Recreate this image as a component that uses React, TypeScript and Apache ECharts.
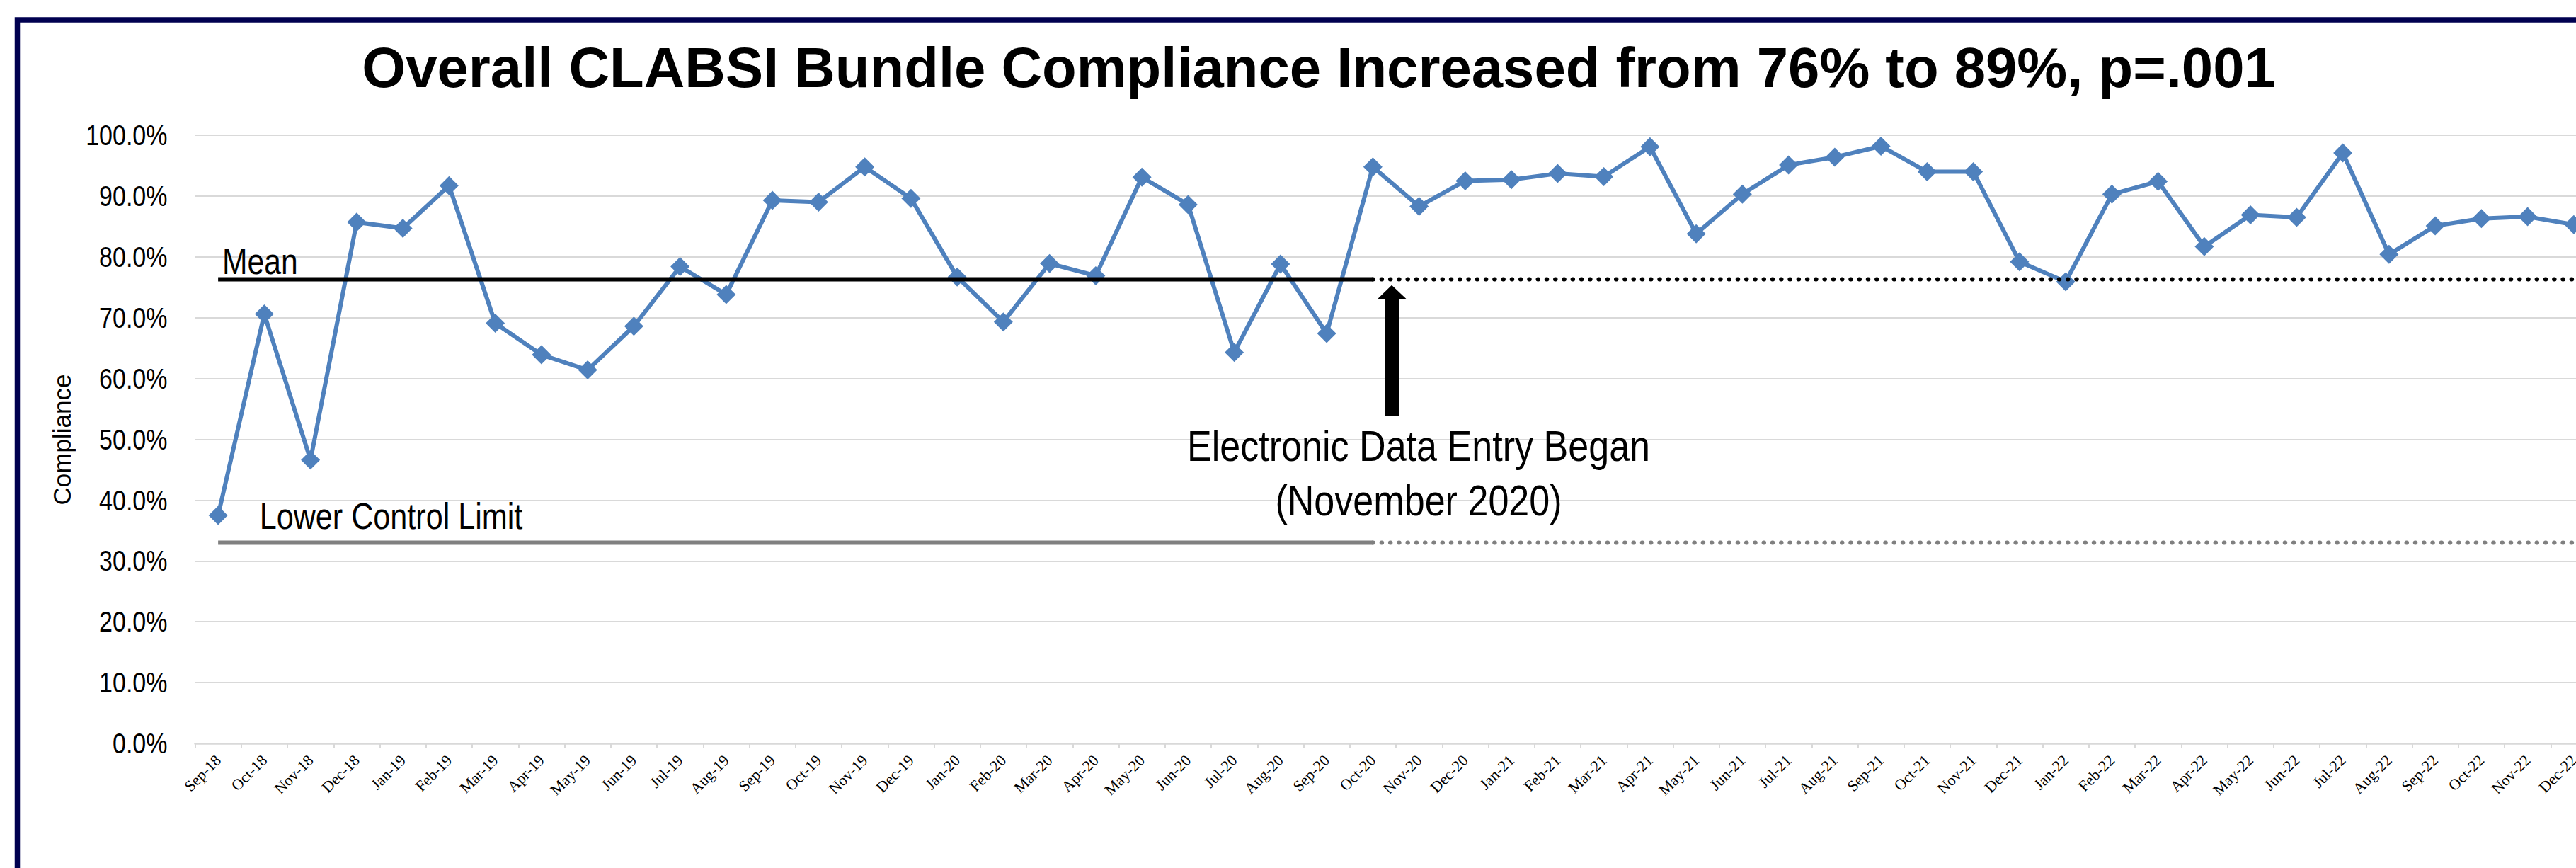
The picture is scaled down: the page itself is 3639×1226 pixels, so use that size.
import React, { useEffect, useRef } from "react";
import * as echarts from "echarts";

const months = [
  "Sep-18", "Oct-18", "Nov-18", "Dec-18",
  "Jan-19", "Feb-19", "Mar-19", "Apr-19", "May-19", "Jun-19", "Jul-19", "Aug-19", "Sep-19", "Oct-19", "Nov-19", "Dec-19",
  "Jan-20", "Feb-20", "Mar-20", "Apr-20", "May-20", "Jun-20", "Jul-20", "Aug-20", "Sep-20", "Oct-20", "Nov-20", "Dec-20",
  "Jan-21", "Feb-21", "Mar-21", "Apr-21", "May-21", "Jun-21", "Jul-21", "Aug-21", "Sep-21", "Oct-21", "Nov-21", "Dec-21",
  "Jan-22", "Feb-22", "Mar-22", "Apr-22", "May-22", "Jun-22", "Jul-22", "Aug-22", "Sep-22", "Oct-22", "Nov-22", "Dec-22",
];

const compliance = [
  37.5, 70.6, 46.6, 85.7,
  84.7, 91.7, 69.1, 63.9, 61.4, 68.6, 78.4, 73.8, 89.3, 89.0, 94.8, 89.6,
  76.7, 69.3, 78.9, 76.9, 93.1, 88.6, 64.3, 78.8, 67.4, 94.8, 88.3, 92.5,
  92.7, 93.7, 93.2, 98.1, 83.8, 90.3, 95.1, 96.4, 98.2, 94.0, 94.0, 79.2,
  75.9, 90.3, 92.4, 81.7, 86.9, 86.5, 97.1, 80.4, 85.1, 86.3, 86.6, 85.3,
];

const MEAN = 76.3;
const LOWER_CONTROL_LIMIT = 33.0;
const SPLIT_MONTH = "Oct-20";

const yTicks = [0, 10, 20, 30, 40, 50, 60, 70, 80, 90, 100];

const SANS = "'Liberation Sans', Arial, sans-serif";
const SERIF = "'Liberation Serif', 'Times New Roman', serif";

export default function App() {
  const ref = useRef<HTMLDivElement>(null);

  useEffect(() => {
    if (!ref.current) return;
    const chart = echarts.init(ref.current, undefined, { renderer: "svg" });
    const splitIdx = months.indexOf(SPLIT_MONTH);
    const solidPart = (v: number) => months.map((_, i) => (i <= splitIdx ? v : null));
    const dottedPart = (v: number) => months.map((_, i) => (i >= splitIdx ? v : null));
    const dots = [0.5, 11.77];
    const gridLeft = 275.5;

    chart.setOption({
      animation: false,
      backgroundColor: "#ffffff",
      grid: { left: gridLeft, top: 191, width: 3393, height: 859, containLabel: false },
      xAxis: {
        type: "category",
        data: months,
        boundaryGap: true,
        axisLine: { show: true, lineStyle: { color: "#d9d9d9", width: 2.5 } },
        axisTick: { show: true, length: 7, interval: 0, lineStyle: { color: "#d9d9d9", width: 2 } },
        axisLabel: {
          interval: 0,
          rotate: 45,
          margin: 20,
          fontFamily: SERIF,
          fontSize: 22,
          color: "#000000",
        },
        splitLine: { show: false },
      },
      yAxis: {
        type: "value",
        min: yTicks[0],
        max: yTicks[yTicks.length - 1],
        interval: 10,
        axisLine: { show: false },
        axisTick: { show: false },
        axisLabel: { show: false },
        splitLine: { show: true, lineStyle: { color: "#d9d9d9", width: 2 } },
      },
      series: [
        {
          name: "Compliance",
          type: "line",
          data: compliance,
          symbol: "diamond",
          symbolSize: 27,
          lineStyle: { color: "#4F81BD", width: 6 },
          itemStyle: { color: "#4F81BD" },
          z: 2,
        },
        {
          name: "Mean",
          type: "line",
          data: solidPart(MEAN),
          symbol: "none",
          lineStyle: { color: "#000000", width: 6, cap: "butt" },
          z: 3,
        },
        {
          name: "Mean (after)",
          type: "line",
          data: dottedPart(MEAN),
          symbol: "none",
          lineStyle: { color: "#000000", width: 6, type: dots, cap: "round" },
          z: 3,
        },
        {
          name: "Lower Control Limit",
          type: "line",
          data: solidPart(LOWER_CONTROL_LIMIT),
          symbol: "none",
          lineStyle: { color: "#808080", width: 6, cap: "butt" },
          z: 3,
        },
        {
          name: "Lower Control Limit (after)",
          type: "line",
          data: dottedPart(LOWER_CONTROL_LIMIT),
          symbol: "none",
          lineStyle: { color: "#808080", width: 6, type: dots, cap: "round" },
          z: 3,
        },
      ],
    });

    const yLabelTexts = yTicks.map((v) => {
      const py = chart.convertToPixel({ yAxisIndex: 0 }, v) as number;
      return {
        type: "text",
        x: gridLeft - 39,
        y: py,
        scaleX: 0.83,
        style: {
          text: v.toFixed(1) + "%",
          fontFamily: SANS,
          fontSize: 41,
          fill: "#000000",
          align: "right",
          verticalAlign: "middle",
        },
      };
    });

    chart.setOption({
      graphic: [
        {
          type: "rect",
          shape: { x: 24.5, y: 28, width: 3800, height: 1400 },
          style: { fill: "none", stroke: "#000050", lineWidth: 7.5 },
          silent: true,
          z: 10,
        },
        {
          type: "text",
          x: 1863,
          y: 95,
          style: {
            text: "Overall CLABSI Bundle Compliance Increased from 76% to 89%, p=.001",
            fontFamily: SANS,
            fontWeight: "bold",
            fontSize: 79.7,
            fill: "#000000",
            align: "center",
            verticalAlign: "middle",
          },
        },
        {
          type: "text",
          x: 87,
          y: 621,
          rotation: Math.PI / 2,
          style: {
            text: "Compliance",
            fontFamily: SANS,
            fontSize: 35,
            fill: "#000000",
            align: "center",
            verticalAlign: "middle",
          },
        },
        ...yLabelTexts,
        {
          type: "text",
          x: 314,
          y: 368.5,
          scaleX: 0.82,
          style: {
            text: "Mean",
            fontFamily: SANS,
            fontSize: 52,
            fill: "#000000",
            align: "left",
            verticalAlign: "middle",
          },
        },
        {
          type: "text",
          x: 366.7,
          y: 729,
          scaleX: 0.83,
          style: {
            text: "Lower Control Limit",
            fontFamily: SANS,
            fontSize: 52,
            fill: "#000000",
            align: "left",
            verticalAlign: "middle",
          },
        },
        {
          type: "text",
          x: 2004,
          y: 668,
          scaleX: 0.84,
          style: {
            text: "Electronic Data Entry Began\n(November 2020)",
            fontFamily: SANS,
            fontSize: 62,
            lineHeight: 76.5,
            fill: "#000000",
            align: "center",
            verticalAlign: "middle",
          },
        },
        {
          type: "polygon",
          shape: {
            points: [
              [1966, 402.7],
              [1986.7, 422.3],
              [1976, 422.3],
              [1976, 587.3],
              [1956.3, 587.3],
              [1956.3, 422.3],
              [1946, 422.3],
            ],
          },
          style: { fill: "#000000" },
          z: 5,
        },
      ],
    });

    return () => chart.dispose();
  }, []);

  return (
    <div
      style={{
        position: "fixed",
        left: 0,
        top: 0,
        width: 3639,
        height: 1226,
        overflow: "hidden",
        background: "#ffffff",
      }}
    >
      <div ref={ref} style={{ width: 3720, height: 1226 }} />
    </div>
  );
}
